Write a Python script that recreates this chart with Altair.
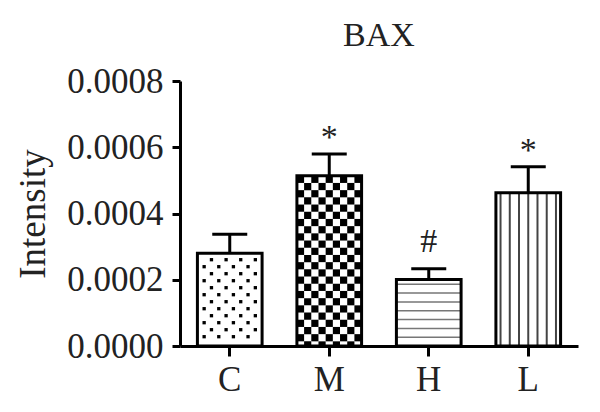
import altair as alt
import pandas as pd

# ---- data ----
groups = ["C", "M", "H", "L"]
means = [0.000280, 0.000514, 0.000201, 0.000463]
sems = [0.000057, 0.000066, 0.000032, 0.000078]
sig_labels = ["", "*", "#", "*"]
y_ticks = [0.0, 0.0002, 0.0004, 0.0006, 0.0008]
chart_title = ["BAX"]

Y_MAX = 0.0008
PLOT_W = 398
PLOT_H = 265
PX = Y_MAX / PLOT_H  # data units per pixel (used only for pattern spacing)
FONT = "Liberation Serif"
TXT = "#222222"

bars = pd.DataFrame({
    "g": groups,
    "v": means,
    "v2": [m + s for m, s in zip(means, sems)],
    "label": sig_labels,
})

# ---- fill patterns (texture only) ----
# dots for C
dots = []
m = means[0]
k = 0
while (9.3 + 7 * k) * PX < m - 3 * PX:
    y = (9.3 + 7 * k) * PX
    for c in range(8):
        if c % 2 == k % 2:
            dots.append({"g": "C", "col": c, "v": y})
    k += 1
dots = pd.DataFrame(dots)

# checkerboard for M
checker = []
m = means[1]
h = 7.2 * PX
i = 0
while m - i * h > 0:
    top = m - i * h
    bot = max(m - (i + 1) * h, 0.0)
    for c in range(9):
        if (i + c) % 2 == 0:
            checker.append({"g": "M", "col": c, "v": bot, "v2": top})
    i += 1
checker = pd.DataFrame(checker)

# horizontal lines for H
hl = []
m = means[2]
k = 0
while (8.7 + 8.85 * k) * PX < m - 3 * PX:
    hl.append({"g": "H", "v": (8.7 + 8.85 * k) * PX})
    k += 1
hl = pd.DataFrame(hl)

# vertical lines for L
vl = pd.DataFrame({"g": ["L"] * 7, "col": list(range(7)), "v": [0.0] * 7, "v2": [means[3]] * 7})

# ---- encodings ----
xscale = alt.Scale(domain=groups, paddingInner=0.35, paddingOuter=0.175)
xaxis = alt.Axis(title=None, labelAngle=0, tickSize=10, labelPadding=6)
yscale = alt.Scale(domain=[0, Y_MAX], nice=False)
yaxis = alt.Axis(values=y_ticks, format=".4f", title="Intensity", grid=False,
                 tickSize=8, labelPadding=9, titlePadding=14)


def X():
    return alt.X("g:N", scale=xscale, axis=xaxis)


def Y(field="v"):
    return alt.Y(f"{field}:Q", scale=yscale, axis=yaxis, title="Intensity")


base_fill = alt.Chart(bars).mark_bar(color="white", strokeWidth=0).encode(x=X(), y=Y())

checker_layer = alt.Chart(checker).mark_rect(color="black").encode(
    x=X(),
    xOffset=alt.XOffset("col:O", scale=alt.Scale(type="band", paddingInner=0, paddingOuter=0)),
    y=Y(), y2="v2:Q")

dots_layer = alt.Chart(dots).mark_square(size=11, color="black", opacity=1).encode(
    x=X(),
    xOffset=alt.XOffset("col:O", scale=alt.Scale(type="band", paddingInner=0, paddingOuter=0.42)),
    y=Y())

hl_layer = alt.Chart(hl).mark_rect(fill="white", fillOpacity=0, stroke="#777777", strokeWidth=1.5).encode(
    x=X(), y=Y(), y2="v:Q")

vl_layer = alt.Chart(vl).mark_rule(color="#444444", strokeWidth=2).encode(
    x=X(),
    xOffset=alt.XOffset("col:O", scale=alt.Scale(type="band", paddingInner=0, paddingOuter=0)),
    y=Y(), y2="v2:Q")

err_rule = alt.Chart(bars).mark_rule(color="black", strokeWidth=3).encode(x=X(), y=Y(), y2="v2:Q")
err_cap = alt.Chart(bars).mark_tick(color="black", thickness=3, size=35, opacity=1).encode(x=X(), y=Y("v2"))

outline = alt.Chart(bars).mark_bar(fill="white", fillOpacity=0, stroke="black", strokeWidth=3).encode(x=X(), y=Y())

star = alt.Chart(bars).transform_filter(alt.datum.label == "*").mark_text(
    font=FONT, fontSize=34, color=TXT, baseline="alphabetic", dy=-6).encode(x=X(), y=Y("v2"), text="label:N")
hashm = alt.Chart(bars).transform_filter(alt.datum.label == "#").mark_text(
    font=FONT, fontSize=34, color=TXT, baseline="alphabetic", dy=-17).encode(x=X(), y=Y("v2"), text="label:N")

title_layer = alt.Chart(pd.DataFrame({"t": chart_title})).mark_text(
    font=FONT, fontSize=34, color=TXT, baseline="alphabetic", align="center").encode(
    text="t:N", x=alt.value(PLOT_W / 2), y=alt.value(-35))

chart = alt.layer(
    base_fill, checker_layer, dots_layer, hl_layer, vl_layer, err_rule, err_cap, outline, star, hashm,
    title_layer,
).resolve_scale(
    xOffset="independent"
).properties(
    width=PLOT_W,
    height=PLOT_H,
    autosize=alt.AutoSizeParams(type="none"),
    padding={"left": 172, "top": 73, "right": 10, "bottom": 56},
).configure_view(
    stroke=None
).configure_axis(
    domainColor="black", domainWidth=3, tickColor="black", tickWidth=3,
    labelFont=FONT, labelFontSize=35, labelColor=TXT,
    titleFont=FONT, titleFontSize=37, titleFontWeight="normal", titleColor=TXT,
)

chart.save("out.html", embed_options={"renderer": "svg", "actions": False})
